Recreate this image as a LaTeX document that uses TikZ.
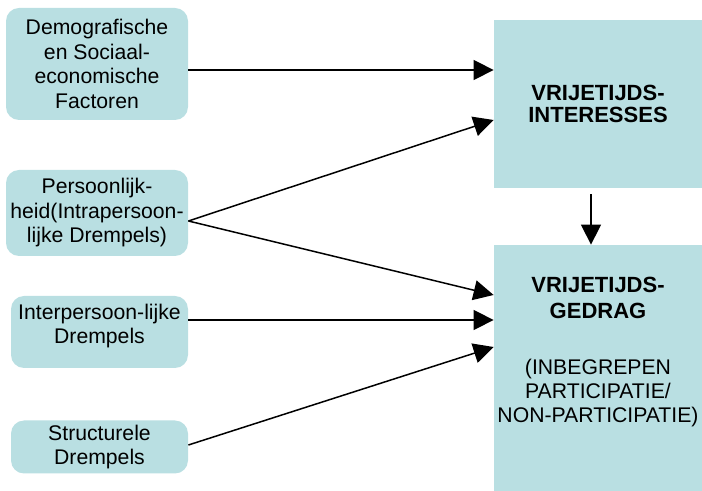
\documentclass[tikz,border=0pt]{standalone}
\usepackage{fontspec}
\setmainfont{Liberation Sans}
\usetikzlibrary{arrows.meta}
\definecolor{boxteal}{RGB}{185,223,226}

\begin{document}
\begin{tikzpicture}[x=0.5pt,y=-0.5pt,
	factor/.style={fill=boxteal,rounded corners=6.5pt,inner sep=0pt,align=center,font=\fontsize{10.6}{12.25}\selectfont},
	uitkomst/.style={fill=boxteal,inner sep=0pt,minimum width=104pt},
	pijl/.style={-{Triangle[length=10pt,width=10pt]},line width=0.75pt}]
	\useasboundingbox (0,0) rectangle (702,491);

	% factoren links
	\node[factor,minimum width=91pt,minimum height=56pt] (demo) at (97,64) {Demografische\\en Sociaal-\\economische\\Factoren};
	\node[factor,minimum width=91pt,minimum height=43pt] (pers) at (97,213) {Persoonlijk-\\heid(Intrapersoon-\\lijke Drempels)};
	\node[factor,minimum width=88.5pt,minimum height=36pt] (inter) at (99.5,332) {Interpersoon-lijke\\Drempels\\[-4pt]\mbox{}};
	\node[factor,minimum width=88.5pt,minimum height=26.5pt] (struc) at (99.5,447) {Structurele\\Drempels};

	% rechts
	\node[uitkomst,minimum height=84pt,align=center,font=\fontsize{11}{11}\selectfont\bfseries] (inte) at (598,104) {VRIJETIJDS-\\INTERESSES};
	\node[uitkomst,minimum height=123pt] (gedr) at (598,368) {};
	\node[align=center,inner sep=0pt,font=\fontsize{10.6}{12}\selectfont] (gedrtxt) at (598,352) {\textbf{\fontsize{11}{12}\selectfont VRIJETIJDS-}\\[1pt]\textbf{\fontsize{11}{12}\selectfont GEDRAG}\\[16pt](INBEGREPEN\\PARTICIPATIE/\\NON-PARTICIPATIE)};

	\draw[pijl] ([yshift=-3pt]demo.east) -- ([yshift=-3pt]demo.east -| inte.west);
	\draw[pijl] ([yshift=-4pt]pers.east) -- ([yshift=-8pt]inte.west);
	\draw[pijl] ([yshift=-4pt]pers.east) -- ([yshift=36.5pt]gedr.west);
	\draw[pijl] ([yshift=6pt]inter.east) -- ([yshift=6pt]inter.east -| gedr.west);
	\draw[pijl] ([yshift=1pt]struc.east) -- ([yshift=10.5pt]gedr.west);
	\draw[pijl] ([xshift=-3.5pt,yshift=-3pt]inte.south) -- ([xshift=-3.5pt]gedr.north);
\end{tikzpicture}
\end{document}
